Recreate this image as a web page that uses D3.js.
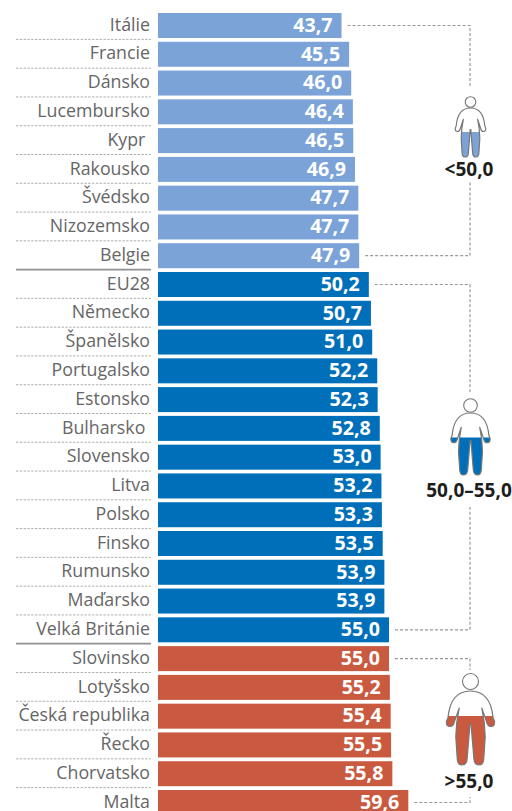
<!DOCTYPE html>
<html><head><meta charset="utf-8">
<script src="https://cdn.jsdelivr.net/npm/d3@7"></script>
<style>html,body{margin:0;padding:0;background:#fff}svg{display:block}
text{font-family:"Open Sans",sans-serif}</style></head><body>
<svg id="c" width="512" height="811"></svg>
<script>
const categories=["Itálie","Francie","Dánsko","Lucembursko","Kypr ","Rakousko","Švédsko","Nizozemsko","Belgie","EU28","Německo","Španělsko","Portugalsko","Estonsko","Bulharsko ","Slovensko","Litva","Polsko","Finsko","Rumunsko","Maďarsko","Velká Británie","Slovinsko","Lotyšsko","Česká republika","Řecko","Chorvatsko","Malta"];
const values=[43.7,45.5,46.0,46.4,46.5,46.9,47.7,47.7,47.9,50.2,50.7,51.0,52.2,52.3,52.8,53.0,53.2,53.3,53.5,53.9,53.9,55.0,55.0,55.2,55.4,55.5,55.8,59.6];
const groupSizes=[9,13,6];
const groupLabels=["<50,0","50,0–55,0",">55,0"];
const groupColors=["#7ba3d8","#006fba","#c95a40"];

const svg=d3.select("#c");
const fmt=v=>v.toFixed(1).replace(".",",");
const x=d3.scaleLinear().domain([0,60]).range([158,410]);
const y=d3.scaleBand().domain(d3.range(categories.length)).range([13,815]).paddingInner(0.131).paddingOuter(0);
const groupOf=[];groupSizes.forEach((n,g)=>{for(let k=0;k<n;k++)groupOf.push(g)});
const data=categories.map((c,i)=>({c,i,v:values[i],g:groupOf[i]}));
const step=y.step(),bw=y.bandwidth();

const lastOfGroup=new Set([8,21]);
svg.append("g").selectAll("line").data(data.slice(0,-1)).join("line")
 .attr("x1",16).attr("x2",151)
 .attr("y1",d=>y(d.i)+bw+(step-bw)/2-0.5).attr("y2",d=>y(d.i)+bw+(step-bw)/2-0.5)
 .attr("stroke",d=>lastOfGroup.has(d.i)?"#8f8f94":"#a5a5a5")
 .attr("stroke-width",d=>lastOfGroup.has(d.i)?1.8:0.9)
 .attr("stroke-dasharray",d=>lastOfGroup.has(d.i)?null:"2.4 1.4");

svg.append("g").selectAll("rect").data(data).join("rect")
 .attr("x",x(0)).attr("y",d=>y(d.i)).attr("width",d=>x(d.v)-x(0)).attr("height",bw)
 .attr("fill",d=>groupColors[d.g]);

svg.append("g").selectAll("text").data(data).join("text")
 .style("white-space","pre")
 .attr("text-anchor","end").attr("x",150).attr("y",d=>y(d.i)+bw/2+5.2)
 .attr("font-size",17.8).attr("fill","#666").text(d=>d.c);

svg.append("g").selectAll("text").data(data).join("text")
 .attr("text-anchor","end").attr("x",d=>x(d.v)-9).attr("y",d=>y(d.i)+bw/2+6.3)
 .attr("font-size",19.6).attr("font-weight",700).attr("fill","#fff").text(d=>fmt(d.v));

const mid=i=>y(i)+bw/2;
const dash=svg.append("g").attr("fill","none").attr("stroke","#999").attr("stroke-width",1.2).attr("stroke-dasharray","3 2");
const bx=470;
const gaps=[[87,182],[392,507],[670,797]];
let start=0;
groupSizes.forEach((n,g)=>{
  const a=start,b=start+n-1;start+=n;
  dash.append("path").attr("d",d3.line()([[x(values[a])+6,mid(a)],[bx,mid(a)],[bx,gaps[g][0]]]));
  dash.append("path").attr("d",d3.line()([[x(values[b])+6,mid(b)],[bx,mid(b)],[bx,gaps[g][1]]]));
});

function bodyPath(){
  const p=d3.path();
  p.moveTo(0,0);
  p.bezierCurveTo(22,0,42,8,46,36);
  p.lineTo(49,41);p.quadraticCurveTo(50,48,42,48);p.quadraticCurveTo(35,48,33,42);
  p.lineTo(23,23);
  p.lineTo(28,42);p.lineTo(30,62);p.lineTo(27,92);p.quadraticCurveTo(26,100,18,100);p.quadraticCurveTo(8,100,7,92);
  p.lineTo(1,44);p.lineTo(-1,44);
  p.lineTo(-7,92);p.quadraticCurveTo(-8,100,-18,100);p.quadraticCurveTo(-26,100,-27,92);p.lineTo(-30,62);p.lineTo(-28,42);
  p.lineTo(-23,23);
  p.lineTo(-33,42);p.quadraticCurveTo(-35,48,-42,48);p.quadraticCurveTo(-50,48,-49,41);
  p.lineTo(-46,36);p.bezierCurveTo(-42,8,-22,0,0,0);p.closePath();
  return p.toString();
}
const figs=[
 {cx:470.5,head:102,r:5.3,top:108,bot:157,hw:15.5,fill:132,ly:176},
 {cx:470.5,head:405.5,r:6.8,top:413,bot:475,hw:20,fill:437.5,ly:497},
 {cx:470.5,head:681.5,r:8,top:691,bot:765,hw:24.5,fill:716,ly:788}
];
const d=bodyPath();
const defs=svg.append("defs");
figs.forEach((f,g)=>{
  const sy=(f.bot-f.top)/100,sx=f.hw/50;
  const T=`translate(${f.cx},${f.top}) scale(${sx},${sy})`;
  defs.append("clipPath").attr("id","cl"+g).append("rect").attr("x",f.cx-40).attr("y",f.fill).attr("width",80).attr("height",f.bot-f.fill+3);
  const G=svg.append("g");
  G.append("circle").attr("cx",f.cx).attr("cy",f.head).attr("r",f.r).attr("fill","#fff").attr("stroke","#777").attr("stroke-width",1.1);
  G.append("g").attr("clip-path",`url(#cl${g})`).append("path").attr("d",d).attr("transform",T).attr("fill",groupColors[g]);
  G.append("path").attr("d",d).attr("transform",T).attr("fill","none").attr("stroke","#777").attr("stroke-width",1.2).attr("vector-effect","non-scaling-stroke").attr("stroke-linejoin","round");
  svg.append("text").attr("x",f.cx-1.5).attr("y",f.ly).attr("text-anchor","middle").attr("font-size",19).attr("font-weight",700).attr("fill","#1d1d1b").text(groupLabels[g]);
});
</script></body></html>
